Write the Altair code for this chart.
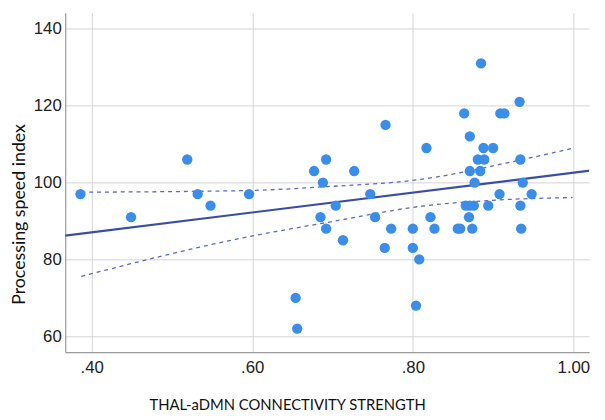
import altair as alt
import pandas as pd

# Scatter data: THAL-aDMN connectivity strength vs processing speed index
conn = [0.386, 0.449, 0.519, 0.532, 0.548, 0.596, 0.654, 0.656, 0.677, 0.685,
        0.688, 0.692, 0.692, 0.704, 0.713, 0.727, 0.747, 0.753, 0.765, 0.766,
        0.773, 0.800, 0.800, 0.804, 0.808, 0.817, 0.822, 0.827, 0.856, 0.859,
        0.864, 0.866, 0.870, 0.871, 0.871, 0.871, 0.874, 0.876, 0.877, 0.881,
        0.884, 0.885, 0.888, 0.889, 0.894, 0.900, 0.908, 0.909, 0.914, 0.933,
        0.934, 0.934, 0.935, 0.937, 0.948]
psi = [97, 91, 106, 97, 94, 97, 70, 62, 103, 91,
       100, 106, 88, 94, 85, 103, 97, 91, 83, 115,
       88, 88, 83, 68, 80, 109, 91, 88, 88, 88,
       118, 94, 91, 112, 103, 94, 88, 94, 100, 106,
       103, 131, 109, 106, 94, 109, 97, 118, 118, 121,
       106, 94, 88, 100, 97]

# Fit line
fit_x = [0.367, 1.029]
fit_y = [86.2, 103.3]

# 95% confidence band edges
ci_x = [0.387, 0.588, 0.698, 0.809, 0.919, 0.999]
ci_upper = [97.5, 97.9, 99.0, 100.8, 105.2, 108.9]
ci_lower = [75.6, 85.6, 89.8, 93.8, 95.6, 96.1]

x_ticks = [0.4, 0.6, 0.8, 1.0]
y_ticks = [60, 80, 100, 120, 140]

pts = pd.DataFrame({"x": conn, "y": psi})
fit = pd.DataFrame({"x": fit_x, "y": fit_y})
ci = pd.concat([
    pd.DataFrame({"x": ci_x, "y": ci_upper, "band": "upper"}),
    pd.DataFrame({"x": ci_x, "y": ci_lower, "band": "lower"}),
])

xs = alt.Scale(domain=[0.367, 1.0196], nice=False, zero=False)
ys = alt.Scale(domain=[55.9, 144.2], nice=False, zero=False)

xaxis = alt.Axis(
    values=x_ticks, grid=True, ticks=False,
    labelExpr="datum.value < 1 ? replace(format(datum.value, '.2f'), '0.', '.') : format(datum.value, '.2f')",
    title="THAL-aDMN CONNECTIVITY STRENGTH", labelPadding=8, titlePadding=22,
    titleFontSize=15, titleX=225, titleAlign="center",
)
yaxis = alt.Axis(values=y_ticks, grid=True, ticks=False, labelPadding=4,
                 title="Processing speed index", titlePadding=5,
                 titleFontSize=18, titleY=204, titleAlign="center")

points = alt.Chart(pts).mark_circle(size=110, color="#3a8ee8", opacity=1).encode(
    x=alt.X("x:Q", scale=xs, axis=xaxis),
    y=alt.Y("y:Q", scale=ys, axis=yaxis),
)

fit_line = alt.Chart(fit).mark_line(color="#3a4ea6", strokeWidth=2.2, clip=True).encode(
    x=alt.X("x:Q", scale=xs), y=alt.Y("y:Q", scale=ys)
)

ci_lines = alt.Chart(ci).mark_line(
    color="#5b6bb8", strokeWidth=1.3, strokeDash=[4, 4], interpolate="monotone"
).encode(
    x=alt.X("x:Q", scale=xs), y=alt.Y("y:Q", scale=ys), detail="band:N"
)

chart = alt.layer(ci_lines, fit_line, points).properties(
    width=531, height=344,
    autosize=alt.AutoSizeParams(type="none"),
    padding={"left": 58, "top": 2, "right": 8, "bottom": 58},
).configure_view(stroke=None).configure_axis(
    gridColor="#d4d4d4", gridWidth=1,
    domainColor="#9a9a9a", domainWidth=1.2,
    labelFont="Liberation Sans", labelFontSize=17, labelColor="#222222",
    titleFont="Lato", titleFontWeight="normal", titleColor="#111111",
)

chart.save("out.html", embed_options={"renderer": "svg", "actions": False})
